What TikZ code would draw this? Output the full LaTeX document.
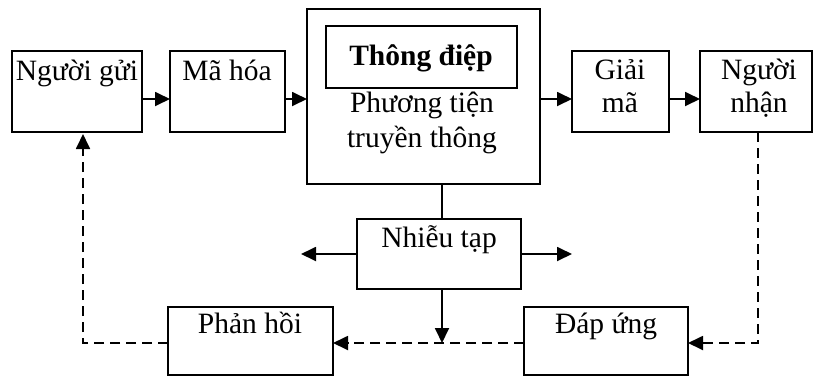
\documentclass[tikz,border=0pt]{standalone}
\usepackage{fontspec}
\setmainfont{Liberation Serif}
\usetikzlibrary{arrows.meta}
\begin{document}
\begin{tikzpicture}[x=1pt,y=-1pt,
 box/.style={draw, line width=1.6pt, anchor=north west, inner sep=0pt, outer sep=0pt},
 txt/.style={anchor=base, inner sep=0pt, font=\fontsize{29.5}{34}\selectfont, align=center},
 tip/.style={-{Triangle[length=15pt,width=14pt]}},
 arr/.style={line width=1.8pt, tip},
 dsh/.style={line width=1.8pt, dash pattern=on 10pt off 6pt},
 ]
\useasboundingbox (0,0) rectangle (814,376);
% boxes
\node[box, minimum width=130pt, minimum height=81pt] (sender) at (12,51) {};
\node[box, minimum width=115pt, minimum height=81pt] (enc) at (170,51) {};
\node[box, minimum width=233pt, minimum height=175pt] (chan) at (307,9) {};
\node[box, minimum width=191pt, minimum height=62pt] (msg) at (326,26) {};
\node[box, minimum width=97pt, minimum height=81pt] (dec) at (572,51) {};
\node[box, minimum width=112pt, minimum height=81pt] (recv) at (700,51) {};
\node[box, minimum width=164pt, minimum height=70pt] (noise) at (357,219) {};
\node[box, minimum width=165pt, minimum height=68pt] (fb) at (168,307) {};
\node[box, minimum width=164pt, minimum height=68pt] (resp) at (524,307) {};
% texts
\node[txt] (tsender) at (77,80) {Người gửi};
\node[txt] (tenc) at (227,80) {Mã hóa};
\node[txt, font=\fontsize{29.5}{34}\selectfont\bfseries] (tmsg) at (421,65) {Thông điệp};
\node[txt, font=\fontsize{29.5}{35}\selectfont] (tchan) at (422,147) {Phương tiện\\truyền thông};
\node[txt, font=\fontsize{29.5}{33}\selectfont] (tdec) at (620,112) {Giải\\mã};
\node[txt, font=\fontsize{29.5}{33}\selectfont] (trecv) at (759,112) {Người\\nhận};
\node[txt] (tnoise) at (439,247) {Nhiễu tạp};
\node[txt] (tfb) at (250,333) {Phản hồi};
\node[txt] (tresp) at (606,333) {Đáp ứng};
% coordinates
\coordinate (j) at (442,343);
\coordinate (nl) at (301,254);
\coordinate (nr) at (572,254);
\coordinate (fl) at (83,343);
% solid arrows
\draw[arr] ([yshift=-7.5pt]sender.east) -- ([yshift=-7.5pt]enc.west);
\draw[arr] ([yshift=-7.5pt]enc.east) -- ([yshift=-7.5pt]enc.east -| chan.west);
\draw[arr] ([yshift=-7.5pt]dec.west -| chan.east) -- ([yshift=-7.5pt]dec.west);
\draw[arr] ([yshift=-7.5pt]dec.east) -- ([yshift=-7.5pt]recv.west);
\draw[line width=1.8pt] (j |- chan.south) -- (j |- noise.north);
\draw[arr] (noise.west) -- (nl);
\draw[arr] (noise.east) -- (nr);
\draw[arr] (j |- noise.south) -- (j);
% dashed feedback
\draw[dsh, tip] ([xshift=2pt]recv.south) |- (resp.east |- j);
\draw[dsh, tip] (resp.west |- j) -- (fb.east |- j);
\draw[dsh, tip] (fb.west |- j) -- (fl) -- ([yshift=-2pt]fl |- sender.south);
\end{tikzpicture}
\end{document}
